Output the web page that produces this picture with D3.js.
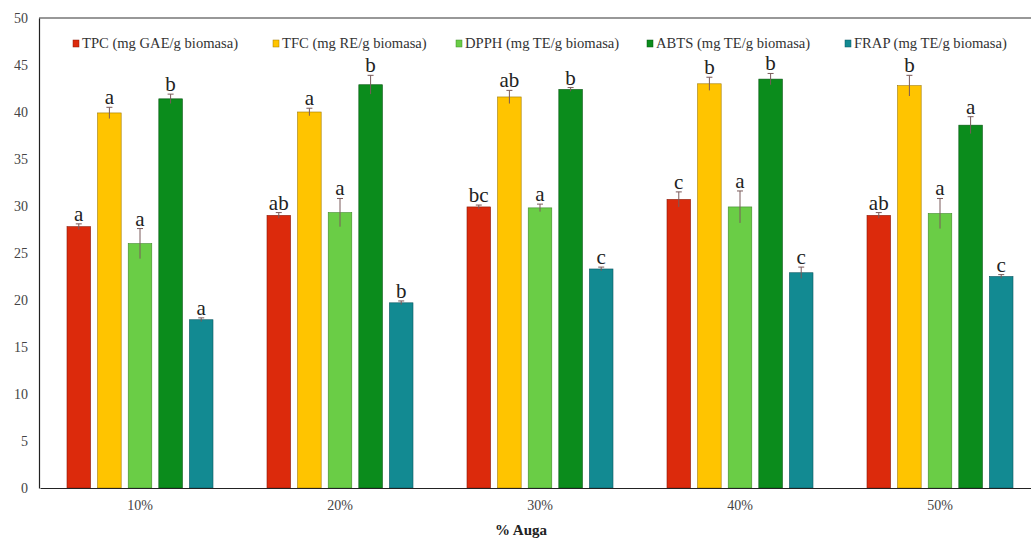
<!DOCTYPE html>
<html>
<head>
<meta charset="utf-8">
<script src="https://cdn.jsdelivr.net/npm/d3@7/dist/d3.min.js"></script>
<style>
  html, body { margin: 0; padding: 0; background: #ffffff; }
  svg { display: block; }
  svg text { font-family: "Liberation Serif", "Times New Roman", serif; }
</style>
</head>
<body>
<svg id="chart" width="1031" height="538"></svg>
<script>
// Water percentage groups
const categories = ["10%", "20%", "30%", "40%", "50%"];
const seriesNames = [
  "TPC (mg GAE/g biomasa)",
  "TFC (mg RE/g biomasa)",
  "DPPH (mg TE/g biomasa)",
  "ABTS (mg TE/g biomasa)",
  "FRAP (mg TE/g biomasa)"
];
const seriesColors = ["#dc2a0c", "#ffc400", "#6acd46", "#0b8c1c", "#128a92"];
const seriesStroke = ["#8a1a08", "#a07a00", "#3f8a2a", "#065510", "#0b5560"];

// Means per series (one value per category)
const tpc  = [27.8, 29.0, 29.9, 30.7, 29.0];
const tfc  = [39.9, 40.0, 41.6, 43.0, 42.8];
const dpph = [26.0, 29.3, 29.8, 29.9, 29.2];
const abts = [41.4, 42.9, 42.4, 43.5, 38.6];
const frap = [17.9, 19.7, 23.3, 22.9, 22.5];

// Standard deviations
const tpcErr  = [0.3, 0.3, 0.2, 0.8, 0.3];
const tfcErr  = [0.6, 0.4, 0.7, 0.7, 1.1];
const dpphErr = [1.6, 1.5, 0.4, 1.7, 1.6];
const abtsErr = [0.5, 1.0, 0.2, 0.6, 0.9];
const frapErr = [0.2, 0.2, 0.2, 0.6, 0.2];

// Significance letters
const tpcSig  = ["a", "ab", "bc", "c", "ab"];
const tfcSig  = ["a", "a", "ab", "b", "b"];
const dpphSig = ["a", "a", "a", "a", "a"];
const abtsSig = ["b", "b", "b", "b", "a"];
const frapSig = ["a", "b", "c", "c", "c"];

const yTicks = [0, 5, 10, 15, 20, 25, 30, 35, 40, 45, 50];
const xTitle = "% Auga";

const seriesValues = [tpc, tfc, dpph, abts, frap];
const seriesErrors = [tpcErr, tfcErr, dpphErr, abtsErr, frapErr];
const seriesLetters = [tpcSig, tfcSig, dpphSig, abtsSig, frapSig];

const svg = d3.select("#chart");
const plotLeft = 39, plotRight = 1039, plotTop = 18, plotBottom = 488;
const groupWidth = 146;

const x = d3.scaleBand().domain(categories).range([plotLeft + 1, plotRight + 1]);
const xs = d3.scaleBand().domain(d3.range(seriesNames.length)).range([0, groupWidth])
  .paddingInner(0.23).paddingOuter(0);
const y = d3.scaleLinear().domain([0, 50]).range([plotBottom, plotTop]);

// Plot frame: top line
svg.append("line").attr("x1", plotLeft).attr("x2", 1031).attr("y1", plotTop).attr("y2", plotTop)
  .attr("stroke", "#333").attr("stroke-width", 1.2);

// Bars
const groups = svg.append("g").selectAll("g")
  .data(categories)
  .join("g")
  .attr("transform", c => `translate(${x(c) + x.bandwidth() / 2 - groupWidth / 2},0)`);

seriesNames.forEach((name, si) => {
  groups.append("rect")
    .attr("x", () => xs(si))
    .attr("y", (c, ci) => y(seriesValues[si][ci]))
    .attr("width", xs.bandwidth())
    .attr("height", (c, ci) => y(0) - y(seriesValues[si][ci]))
    .attr("fill", seriesColors[si])
    .attr("stroke", seriesStroke[si])
    .attr("stroke-width", 0.6);

  // Error bars
  groups.append("line")
    .attr("x1", () => xs(si) + xs.bandwidth() / 2)
    .attr("x2", () => xs(si) + xs.bandwidth() / 2)
    .attr("y1", (c, ci) => y(seriesValues[si][ci] - seriesErrors[si][ci]))
    .attr("y2", (c, ci) => y(seriesValues[si][ci] + seriesErrors[si][ci]))
    .attr("stroke", "#7a5a5a").attr("stroke-width", 1);
  groups.append("line")
    .attr("x1", () => xs(si) + xs.bandwidth() / 2 - 3)
    .attr("x2", () => xs(si) + xs.bandwidth() / 2 + 3)
    .attr("y1", (c, ci) => y(seriesValues[si][ci] + seriesErrors[si][ci]))
    .attr("y2", (c, ci) => y(seriesValues[si][ci] + seriesErrors[si][ci]))
    .attr("stroke", "#7a5a5a").attr("stroke-width", 1);

  // Letters above the error bars
  groups.append("text")
    .attr("x", () => xs(si) + xs.bandwidth() / 2)
    .attr("y", (c, ci) => y(seriesValues[si][ci] + seriesErrors[si][ci]) - 3)
    .attr("text-anchor", "middle")
    .style("font-size", "21px")
    .attr("fill", "#222")
    .text((c, ci) => seriesLetters[si][ci]);
});

// Y axis
const yAxis = svg.append("g").attr("transform", `translate(${plotLeft},0)`)
  .call(d3.axisLeft(y).tickValues(yTicks).tickSize(0).tickPadding(11));
yAxis.select(".domain").attr("stroke", "#222").attr("stroke-width", 1.2);
yAxis.selectAll("text").style("font-size", "14px").attr("fill", "#444")
  .style("font-family", "'Liberation Serif', serif");

// X axis
const xAxis = svg.append("g").attr("transform", `translate(0,${plotBottom})`)
  .call(d3.axisBottom(x).tickSize(0).tickPadding(12));
xAxis.select(".domain").attr("stroke", "#222").attr("stroke-width", 1.2);
xAxis.selectAll("text").style("font-size", "14px").attr("fill", "#444")
  .style("font-family", "'Liberation Serif', serif");

svg.append("text")
  .attr("x", 521).attr("y", 535)
  .attr("text-anchor", "middle")
  .style("font-size", "15px").attr("font-weight", "bold").attr("fill", "#222")
  .text(xTitle);

// Legend
const legendX = [73, 273, 456, 647, 845];
const legend = svg.append("g").selectAll("g")
  .data(seriesNames)
  .join("g")
  .attr("transform", (d, i) => `translate(${legendX[i]},45)`);
legend.append("rect")
  .attr("x", 0).attr("y", -5).attr("width", 6).attr("height", 7)
  .attr("fill", (d, i) => seriesColors[i])
  .attr("stroke", (d, i) => seriesStroke[i]).attr("stroke-width", 0.5);
legend.append("text")
  .attr("x", 9).attr("y", 3)
  .style("font-size", "14.6px").attr("fill", "#333")
  .text(d => d);
</script>
</body>
</html>
